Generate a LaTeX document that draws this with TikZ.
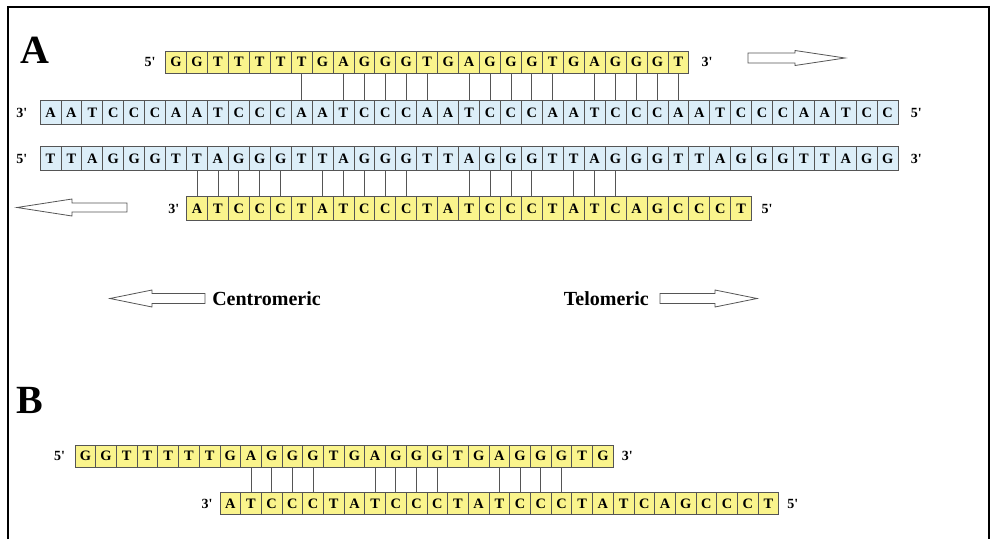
\documentclass[tikz,border=0pt]{standalone}
\usepackage{fontspec}
\setmainfont{Liberation Serif}
\definecolor{ylw}{HTML}{FAF48C}
\definecolor{lblue}{HTML}{DCEEF8}
\definecolor{edge}{HTML}{555555}
\newcommand{\pr}{\textquotesingle}
\tikzset{
  cellbase/.style={draw=edge, line width=0.6pt, inner sep=0pt,
    font=\fontsize{10.8}{12}\selectfont\bfseries, text height=7.4pt, text depth=0pt},
  ycellA/.style={cellbase, fill=ylw, minimum width=15.70pt},
  bcellA/.style={cellbase, fill=lblue, minimum width=15.70pt},
  ycellB/.style={cellbase, fill=ylw, minimum width=15.53pt},
  endlbl/.style={font=\fontsize{10.5}{12}\selectfont\bfseries, inner sep=0pt},
  pairline/.style={draw=edge, line width=0.6pt},
  blockarrow/.style={draw=edge, fill=white, line width=0.6pt, line join=miter},
  bigletter/.style={font=\fontsize{30}{30}\selectfont\bfseries, inner sep=0pt},
  sidelbl/.style={font=\fontsize{15}{17}\selectfont\bfseries, inner sep=0pt},
}
\begin{document}
\begin{tikzpicture}[x=0.75pt, y=-0.75pt]
\useasboundingbox (0,0) rectangle (995,539);
% frame
\draw[line width=1.2pt, black] (8,539) -- (8,7) -- (989,7) -- (989,539);

% Panel labels
\node[bigletter] (labA) at (35,50) {A};
\node[bigletter] (labB) at (30,400) {B};

% Row 1 (yellow, top)
\foreach \c [count=\i from 0] in {G,G,T,T,T,T,T,G,A,G,G,G,T,G,A,G,G,G,T,G,A,G,G,G,T}
  \node[ycellA, minimum height=16.5pt] (a1-\i) at ({40+(\i+6.5)*20.93},62) {\c};
% Row 2 (blue)
\foreach \c [count=\i from 0] in {A,A,T,C,C,C,A,A,T,C,C,C,A,A,T,C,C,C,A,A,T,C,C,C,A,A,T,C,C,C,A,A,T,C,C,C,A,A,T,C,C}
  \node[bcellA, minimum height=18.5pt] (a2-\i) at ({40+(\i+0.5)*20.93},112.5) {\c};
% Row 3 (blue)
\foreach \c [count=\i from 0] in {T,T,A,G,G,G,T,T,A,G,G,G,T,T,A,G,G,G,T,T,A,G,G,G,T,T,A,G,G,G,T,T,A,G,G,G,T,T,A,G,G}
  \node[bcellA, minimum height=18pt] (a3-\i) at ({40+(\i+0.5)*20.93},158.5) {\c};
% Row 4 (yellow)
\foreach \c [count=\i from 0] in {A,T,C,C,C,T,A,T,C,C,C,T,A,T,C,C,C,T,A,T,C,A,G,C,C,C,T}
  \node[ycellA, minimum height=18.5pt] (a4-\i) at ({40+(\i+7.5)*20.93},208.5) {\c};

% end labels panel A
\node[endlbl, anchor=east] (a1L) at ([xshift=-7pt]a1-0.west) {5\pr};
\node[endlbl, anchor=west] (a1R) at ([xshift=9pt]a1-24.east) {3\pr};
\node[endlbl, anchor=east] (a2L) at ([xshift=-9pt]a2-0.west) {3\pr};
\node[endlbl, anchor=west] (a2R) at ([xshift=9pt]a2-40.east) {5\pr};
\node[endlbl, anchor=east] (a3L) at ([xshift=-9pt]a3-0.west) {5\pr};
\node[endlbl, anchor=west] (a3R) at ([xshift=9pt]a3-40.east) {3\pr};
\node[endlbl, anchor=east] (a4L) at ([xshift=-5pt]a4-0.west) {3\pr};
\node[endlbl, anchor=west] (a4R) at ([xshift=7pt]a4-26.east) {5\pr};

% pairing lines row1-row2
\foreach \i in {6,8,9,10,11,12,14,15,16,17,18,20,21,22,23,24}
  \draw[pairline] (a1-\i.south) -- (a1-\i.south |- a2-0.north);
% pairing lines row3-row4
\foreach \k in {0,1,2,3,4,6,7,8,9,10,13,14,15,16,18,19,20}
  \draw[pairline] (a4-\k.north) -- (a4-\k.north |- a3-0.south);

% direction arrows panel A
\draw[blockarrow] (748,53) -- (795,53) -- (795,50.5) -- (845,58) -- (795,65.5) -- (795,63) -- (748,63) -- cycle;
\draw[blockarrow] (127,203) -- (72,203) -- (72,199) -- (17,207.5) -- (72,216) -- (72,212) -- (127,212) -- cycle;

% Centromeric / Telomeric
\draw[blockarrow] (205,293.5) -- (152,293.5) -- (152,290) -- (110,298.5) -- (152,307) -- (152,303.5) -- (205,303.5) -- cycle;
\node[sidelbl, anchor=west] (cen) at (212,298.5) {Centromeric};
\node[sidelbl, anchor=east] (tel) at (649,298.5) {Telomeric};
\draw[blockarrow] (660,293.5) -- (715,293.5) -- (715,290) -- (757,298.5) -- (715,307) -- (715,303.5) -- (660,303.5) -- cycle;

% Panel B
\foreach \c [count=\i from 0] in {G,G,T,T,T,T,T,G,A,G,G,G,T,G,A,G,G,G,T,G,A,G,G,G,T,G}
  \node[ycellB, minimum height=16.5pt] (b1-\i) at ({75+(\i+0.5)*20.7},456) {\c};
\foreach \c [count=\i from 0] in {A,T,C,C,C,T,A,T,C,C,C,T,A,T,C,C,C,T,A,T,C,A,G,C,C,C,T}
  \node[ycellB, minimum height=17pt] (b2-\i) at ({75+(\i+7.5)*20.7},503.5) {\c};
\node[endlbl, anchor=east] (b1L) at ([xshift=-7pt]b1-0.west) {5\pr};
\node[endlbl, anchor=west] (b1R) at ([xshift=6pt]b1-25.east) {3\pr};
\node[endlbl, anchor=east] (b2L) at ([xshift=-5pt]b2-0.west) {3\pr};
\node[endlbl, anchor=west] (b2R) at ([xshift=6pt]b2-26.east) {5\pr};
\foreach \i in {8,9,10,11,14,15,16,17,20,21,22,23}
  \draw[pairline] (b1-\i.south) -- (b1-\i.south |- b2-0.north);
\end{tikzpicture}
\end{document}
